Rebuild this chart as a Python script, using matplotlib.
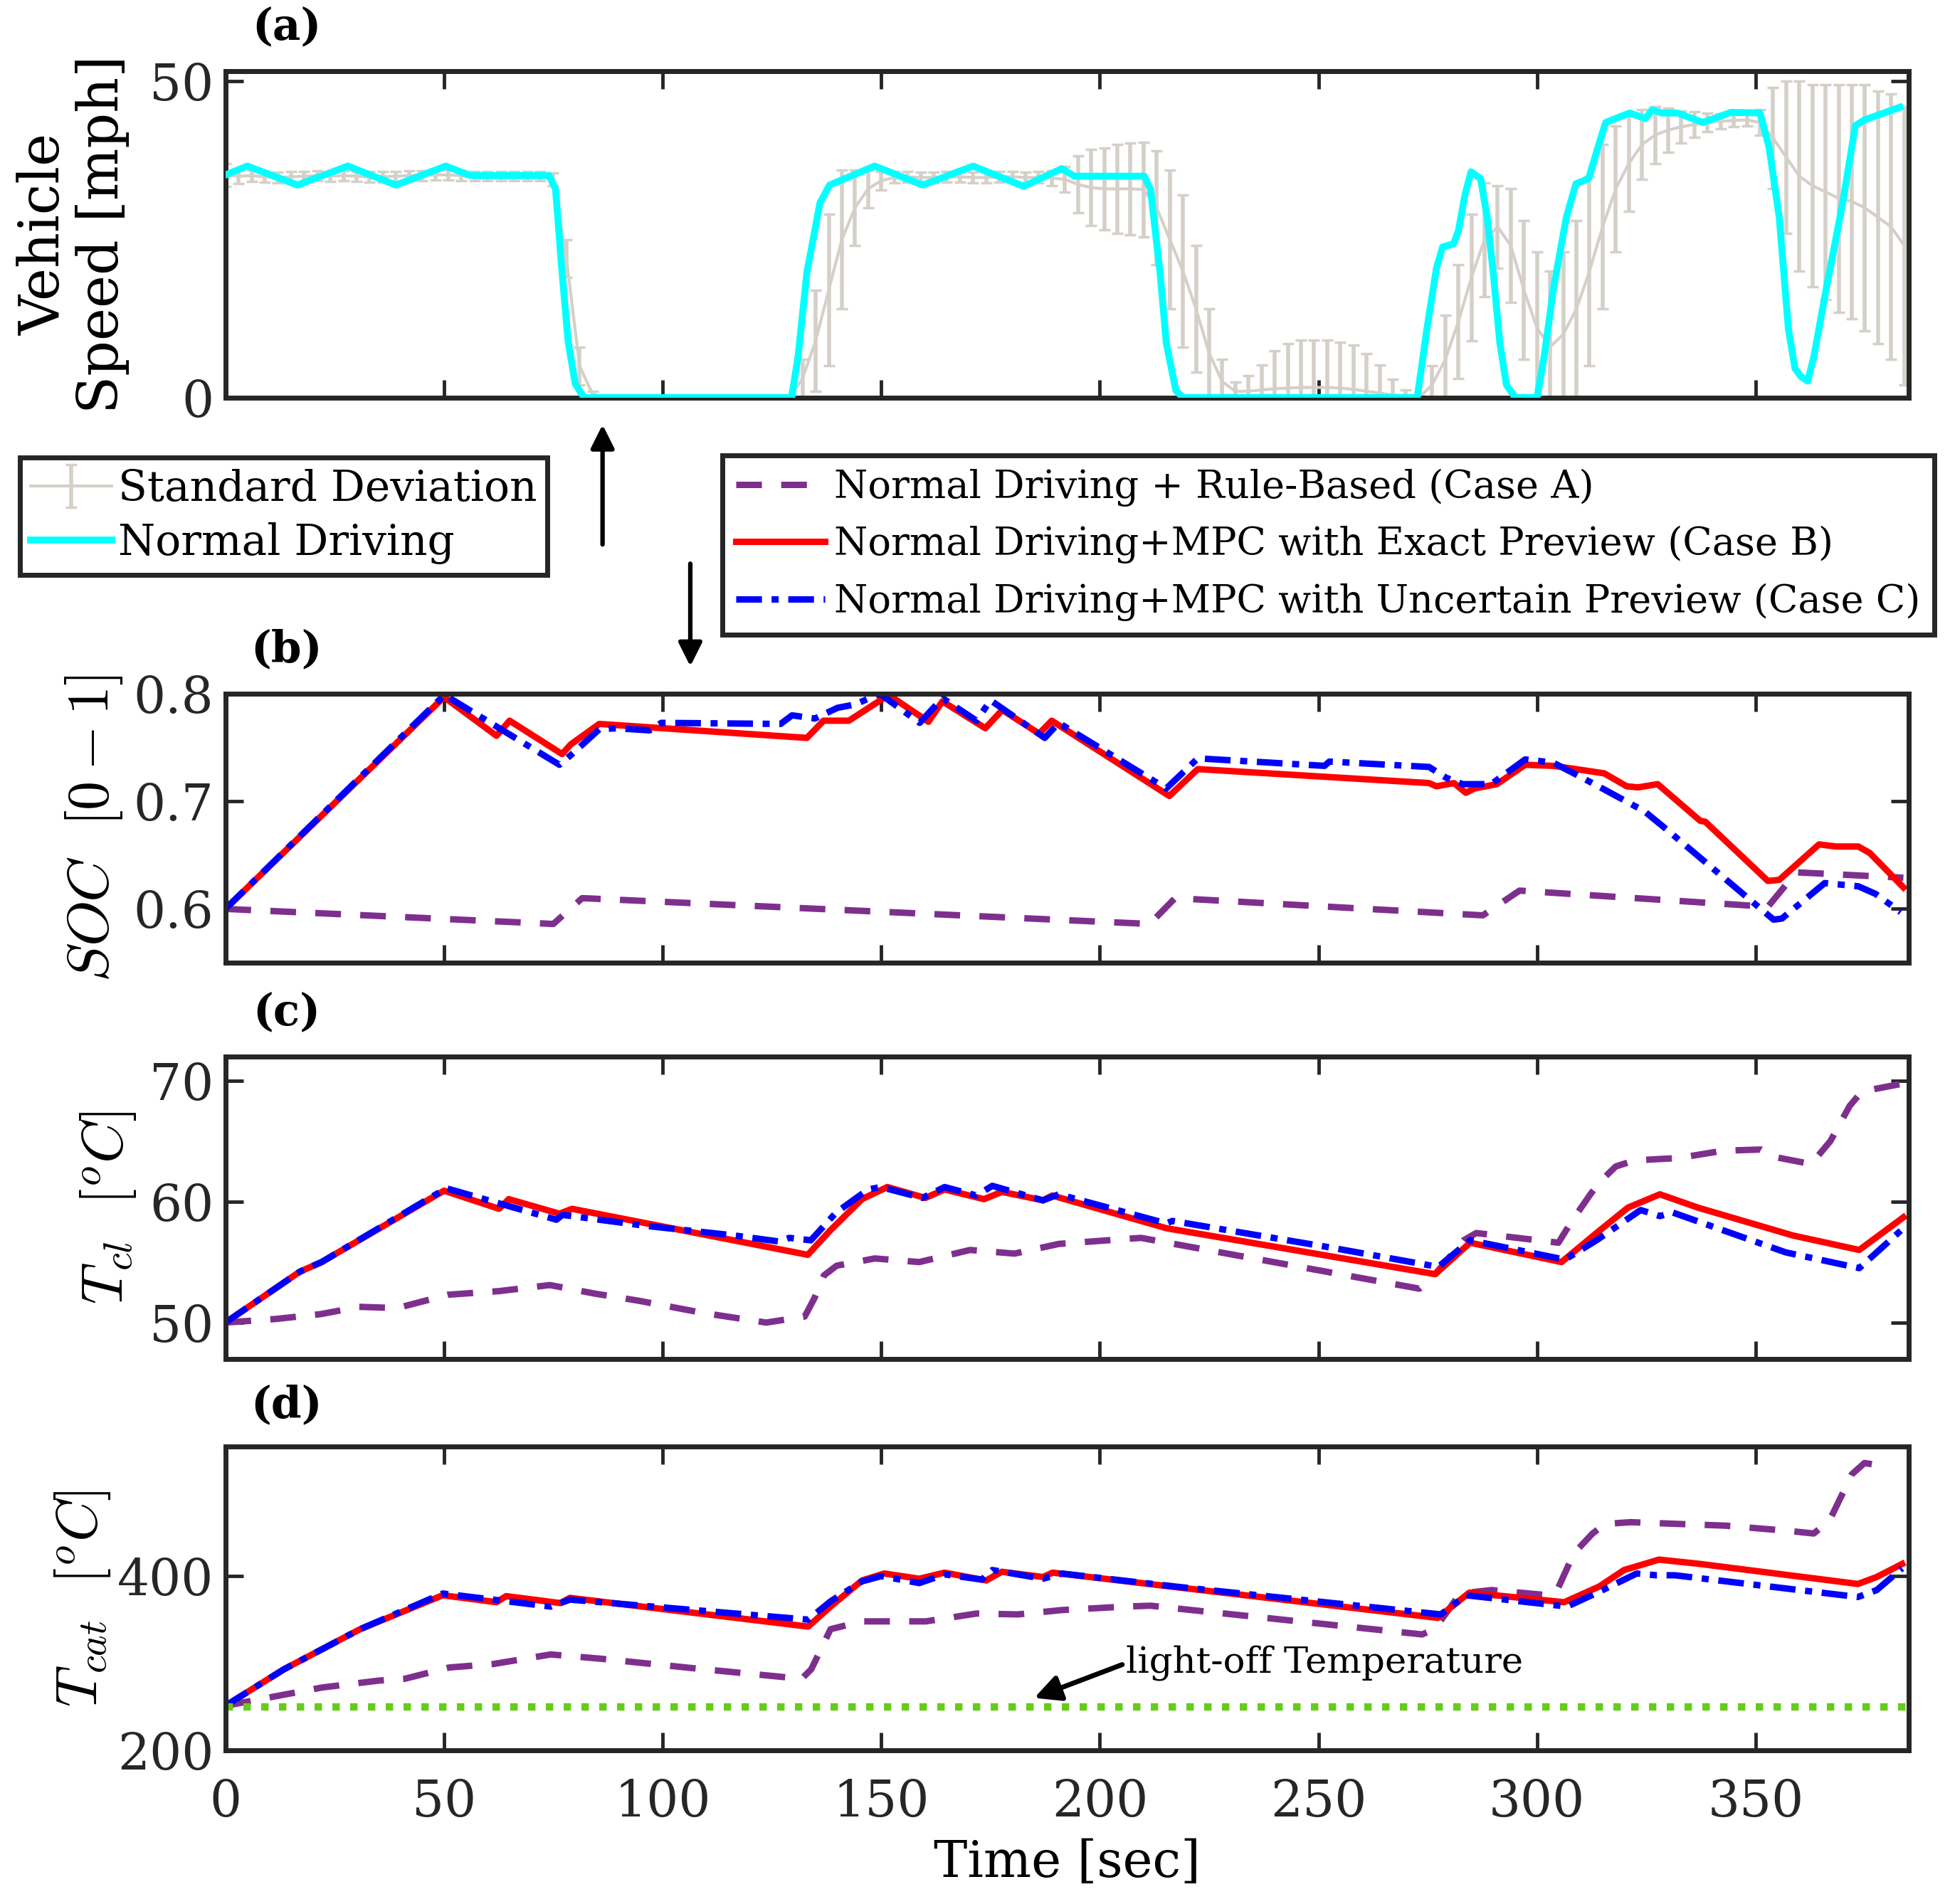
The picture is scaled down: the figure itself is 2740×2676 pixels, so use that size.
#Import packages
import matplotlib
matplotlib.use('Agg')
import matplotlib.pyplot as plt

#-----DATA-----

#(a) vehicle speed, normal driving [mph]
t_speed = [0, 5, 16.5, 28, 39, 50.4, 56, 74, 75.5, 77, 78.4, 80, 82, 129.5, 131, 133, 136, 138.2,
           148.5, 159.5, 171, 182.6, 191.3, 194.2, 210.2, 211.6, 213.8, 215.2, 217.4, 219, 272.6,
           274.8, 277, 278.4, 280.9, 282, 283.5, 284.9, 287.1, 288.6, 290, 291.5, 293, 295, 300,
           301.6, 303.8, 306.7, 308.9, 311.8, 313.9, 315.7, 321.2, 324.8, 326.3, 328.5, 332.1,
           337.9, 344.4, 351, 353.1, 355.4, 357.5, 359, 360.4, 361.9, 363.3, 366.2, 369.9, 372.8,
           374.9, 383]
v_speed = [35.2, 36.6, 33.6, 36.6, 33.6, 36.6, 35.1, 35.1, 33, 19.8, 8.8, 2.2, 0, 0, 6.6, 19.8, 30.8, 33.6,
           36.6, 33.6, 36.6, 33.4, 36.2, 35.0, 35.0, 32.9, 19.6, 8.6, 1.1, 0, 0,
           10.8, 20.5, 23.8, 24.3, 26.3, 32, 35.7, 34.6, 28.5, 19.6, 8.6, 2, 0, 0,
           6.4, 17.4, 28.5, 33.8, 34.6, 39.5, 43.5, 45, 44.1, 45.5, 45, 45,
           43.5, 45.1, 45, 39.5, 28.5, 10.8, 4.6, 3.3, 2.6, 6.4, 17.4, 30.7, 43,
           43.9, 45.9]

#(a) mean and standard deviation of the speed, sampled every 3 sec
t_sd = [0, 3, 6, 9, 12, 15, 18, 21, 24, 27, 30, 33, 36, 39, 42, 45, 48, 51, 54, 57, 60, 63, 66, 69, 72,
        75, 78, 81, 84, 87, 90, 93, 96, 99, 102, 105, 108, 111, 114, 117, 120, 123, 126, 129,
        132, 135, 138, 141, 144, 147, 150, 153, 156, 159, 162, 165, 168, 171, 174, 177, 180, 183, 186, 189,
        192, 195, 198, 201, 204, 207, 210, 213, 216, 219, 222, 225, 228, 231, 234, 237, 240, 243, 246, 249,
        252, 255, 258, 261, 264, 267, 270, 273, 276, 279, 282, 285, 288, 291, 294, 297, 300, 303, 306, 309,
        312, 315, 318, 321, 324, 327, 330, 333, 336, 339, 342, 345, 348, 351, 354, 357, 360, 363, 366, 369,
        372, 375, 378, 381, 384]
sd_mean = [35.2, 35.0, 35.1, 34.9, 34.8, 34.9, 35.0, 35.1, 35.0, 35.1, 35.0, 34.9, 34.9, 35.0, 35.1, 35.1,
           35.2, 35.2, 35.1, 35.0, 35.0, 35.0, 35.0, 35.0, 35.0,
           34.5, 22, 5, 0.5, 0, 0, 0, 0, 0, 0, 0, 0, 0, 0, 0, 0, 0, 0, 0,
           3, 9, 17, 25, 30, 33, 34.3, 34.8, 34.9, 34.8, 34.8, 34.9, 34.9, 34.8, 34.8, 34.9, 34.9, 34.8, 34.8, 34.7,
           34.5, 33.7, 33.2, 33, 33, 33, 32.9, 30, 25, 20, 14, 7, 2.5, 1, 1, 1.2, 1.4, 1.5, 1.6, 1.6,
           1.6, 1.5, 1.3, 1, 0.7, 0.4, 0.2, 0, 2, 6, 12, 19, 25, 27, 24, 17, 11, 8, 10, 14,
           20, 27, 33, 37, 40, 41.5, 42.3, 42.8, 43.2, 43.5, 43.7, 43.8, 43.9, 43.5, 41, 38, 35, 33.5, 32.5, 31.5,
           31, 30, 28.5, 27, 24]
sd_std = [1.8, 1.2, 0.9, 0.8, 0.8, 0.8, 0.8, 0.8, 0.8, 0.8, 0.8, 0.8, 0.8, 0.8, 0.8, 0.8,
          0.8, 0.8, 0.8, 0.7, 0.7, 0.7, 0.7, 0.7, 0.7,
          1.0, 3, 3, 0.5, 0, 0, 0, 0, 0, 0, 0, 0, 0, 0, 0, 0, 0, 0, 0,
          3, 8, 12, 11, 6, 3, 1.5, 0.9, 0.8, 0.8, 0.8, 0.8, 0.8, 0.8, 0.8, 0.8, 0.8, 0.8, 0.9, 1.2,
          2, 4.5, 6, 6.5, 7, 7.3, 7.5, 9, 11, 12, 10, 7, 3.5, 1.5, 2.5, 4, 6, 7, 7.5, 7.5,
          7.5, 7.3, 7, 6, 4.5, 2.5, 1, 0.3, 3, 7, 9, 10, 9, 6.5, 9, 11, 12, 12, 13, 14,
          15, 13, 10, 7.5, 5.5, 4.5, 3.5, 2.5, 2, 1.5, 1.2, 1, 1, 2, 8, 12, 15, 16, 17, 18,
          18.5, 19.5, 20, 21, 22]

#(b) state of charge
t_soc_a = [0, 75, 81.6, 211.4, 217.2, 287.6, 296, 352.8, 359.3, 383.8]
soc_a = [0.600, 0.586, 0.610, 0.586, 0.610, 0.594, 0.617, 0.602, 0.634, 0.629]
t_soc_b = [0, 50, 62, 65, 77, 79, 85.5, 133, 136.8, 142.6, 151.7, 160.8, 164, 173.8, 177.7, 186.1, 189,
           215.9, 222.4, 275.3, 277, 281, 283.7, 285.7, 290.8, 297.3, 303.7, 308.9, 315.4, 320.5, 323.1,
           327.6, 337.3, 338.5, 352.8, 355.4, 364.5, 368.4, 373.5, 376.1, 383.8]
soc_b = [0.600, 0.797, 0.761, 0.775, 0.744, 0.753, 0.772, 0.759, 0.775, 0.775, 0.799, 0.774, 0.793, 0.768,
         0.785, 0.763, 0.775, 0.705, 0.730, 0.717, 0.714, 0.717, 0.708, 0.712, 0.716, 0.734, 0.733, 0.730,
         0.726, 0.714, 0.713, 0.716, 0.682, 0.681, 0.626, 0.627, 0.660, 0.658, 0.658, 0.652, 0.620]
t_soc_c = [0, 50.1, 76.4, 79, 85.5, 89.4, 97, 99.7, 127, 129.6, 134.8, 140, 143.9, 149.7, 158.8, 164, 171.8,
           175, 187.4, 190.6, 215.2, 222.4, 251.4, 252.5, 275.3, 279.2, 283, 289.5, 297.3, 303.7, 308.9,
           315.4, 323.1, 324.5, 329.6, 354.1, 356, 365.8, 373.5, 377.4, 383.2]
soc_c = [0.600, 0.799, 0.734, 0.743, 0.767, 0.768, 0.766, 0.773, 0.772, 0.780, 0.777, 0.787, 0.790, 0.800,
         0.773, 0.796, 0.775, 0.794, 0.759, 0.773, 0.712, 0.740, 0.733, 0.737, 0.732, 0.722, 0.716, 0.716,
         0.739, 0.736, 0.725, 0.711, 0.694, 0.691, 0.674, 0.590, 0.591, 0.624, 0.621, 0.614, 0.597]

#(c) coolant temperature [C]
t_cl_a = [0, 11.6, 21.8, 30.6, 39.3, 50.9, 62.6, 74.2, 84.4, 94.6, 109.2, 123.7, 132.5, 134.7, 136.9, 139.8,
          148.5, 158.7, 170.3, 180.5, 190.6, 209.4, 273.1, 276, 283.2, 286.1, 304.9, 307.8, 312.2, 314.3,
          318, 322.3, 332.4, 342.5, 351.2, 354.1, 362.7, 367.1, 371.5, 374.3, 383]
cl_a = [50, 50.3, 50.7, 51.3, 51.2, 52.3, 52.6, 53.1, 52.4, 51.8, 50.8, 50.0, 50.5, 52, 53.9, 54.7,
        55.3, 55.0, 56.0, 55.7, 56.5, 57.0, 52.8, 53.7, 56.8, 57.4, 56.6, 58.3, 60.6, 61.6,
        62.9, 63.4, 63.6, 64.2, 64.3, 63.7, 63.1, 65, 67.9, 69.1, 69.7]
t_cl_b = [0, 17, 22, 50, 62.6, 64.8, 76.4, 79.3, 133.2, 138.3, 145.6, 151.4, 160.1, 164.5, 173.5, 177.6,
          187, 189.1, 215.2, 276.7, 284.7, 305.6, 313.6, 320.8, 328.1, 336.8, 358.5, 373.7, 383.8]
cl_b = [50, 54.2, 55, 60.9, 59.4, 60.2, 59.0, 59.4, 55.6, 57.6, 60.2, 61.2, 60.3, 61.0, 60.2, 60.8,
        60.1, 60.5, 57.8, 54.0, 56.6, 55.0, 57.4, 59.5, 60.6, 59.5, 57.2, 56.0, 58.7]
t_cl_c = [0, 17, 22, 50.5, 75.7, 77.1, 96, 116.4, 126.6, 129, 133.9, 139.7, 147, 149.9, 159.4, 164.5,
          171.8, 175.4, 187, 190.6, 215.2, 216.6, 252.8, 277.4, 284.7, 306.4, 313.6, 323.7, 328.1, 331,
          356.9, 373.7, 383.8]
cl_c = [50, 54.2, 55, 61.1, 58.5, 58.9, 58.0, 57.2, 56.7, 57.0, 56.8, 59.1, 61.0, 61.2, 60.3, 61.2,
        60.5, 61.3, 60.1, 60.6, 58.2, 58.4, 56.2, 54.6, 56.8, 55.2, 56.8, 59.3, 58.8, 59.1,
        55.8, 54.5, 57.8]

#(d) catalyst temperature [C]
t_cat_a = [0, 10.5, 22.1, 35.2, 41, 51.2, 61.3, 74.4, 86, 109.3, 131.8, 134, 138.4, 145.6, 160.2, 171.8,
           181.2, 191.3, 205.8, 211.6, 273.7, 276.6, 282.4, 289.6, 302.6, 304.8, 308.4, 312.7, 315.6,
           321.4, 343.1, 357.5, 363.3, 366.9, 369.8, 372, 374.9, 379.9]
cat_a = [251, 261, 272, 280, 282, 295, 299, 310, 305, 293, 282, 293, 339, 348, 348, 357,
         356, 361, 365, 366, 333, 339, 380, 384, 378, 386, 426, 449, 460,
         462, 458, 452, 449, 464, 494, 517, 530, 526]
t_cat_b = [0, 13.4, 22.1, 30.8, 49.7, 62, 64.2, 76.6, 78.8, 133.3, 138.4, 145.6, 150.7, 158.7, 164.5, 174,
           177.6, 187, 189.2, 277.3, 284.5, 306.2, 314.2, 319.9, 327.9, 337.3, 373.4, 377.7, 383.5]
cat_b = [251, 293, 316, 339, 378, 370, 377, 369, 375, 342, 365, 395, 403, 397, 404, 395,
         405, 399, 404, 352, 381, 370, 388, 407, 419, 414, 391, 399, 414]
t_cat_c = [0, 13.4, 22.1, 30.8, 49.7, 74.4, 78.8, 133.3, 138.4, 145.6, 150, 158.7, 164.5, 173, 175.4, 187,
           191.3, 217.3, 278, 283.8, 306.9, 314.2, 322.8, 327.2, 331.5, 373.4, 377.7, 383.5]
cat_c = [251, 293, 316, 339, 380, 365, 373, 350, 371, 394, 400, 392, 402, 396, 407, 397,
         403, 388, 356, 378, 365, 382, 403, 401, 401, 376, 384, 409]
light_off = 250

x_ticks = [0, 50, 100, 150, 200, 250, 300, 350]

#-----STYLE-----
plt.rcParams['font.family'] = 'DejaVu Serif'
plt.rcParams['mathtext.fontset'] = 'cm'

spine_col = '#262626'
gray = '#D4D0C8'
purple = '#7E2F8E'
lbl_size = 54
tick_size = 51
lw_case = 6.5
dash_a = (4, 3)
dash_c = (4, 1.5, 1.1, 1.5)

fig = plt.figure(figsize=(27.4, 26.76), dpi=100)

ax_a = fig.add_axes([0.1156, 0.7912, 0.8632, 0.1714])
ax_b = fig.add_axes([0.1156, 0.4944, 0.8632, 0.1412])
ax_c = fig.add_axes([0.1156, 0.2863, 0.8632, 0.1589])
ax_d = fig.add_axes([0.1156, 0.0808, 0.8632, 0.1595])

#-----(a) SPEED-----
sd = ax_a.errorbar(t_sd, sd_mean, yerr=sd_std, color=gray, ecolor=gray, lw=3, elinewidth=4,
                   capsize=6, capthick=2.5, label='Standard Deviation', zorder=2)
cyan_line, = ax_a.plot(t_speed, v_speed, color='#00FFFF', lw=7, label='Normal Driving', zorder=3)
ax_a.set_ylim(0, 51.6)
ax_a.set_yticks([0, 50])
ax_a.set_ylabel('Vehicle\nSpeed [mph]', fontsize=56, linespacing=1.1)
ax_a.yaxis.set_label_coords(-0.057, 0.5)

#-----(b) SOC-----
line_a, = ax_b.plot(t_soc_a, soc_a, color=purple, lw=lw_case, dashes=dash_a,
                    label='Normal Driving + Rule-Based (Case A)')
line_b, = ax_b.plot(t_soc_b, soc_b, color='#FF0000', lw=lw_case,
                    label='Normal Driving+MPC with Exact Preview (Case B)')
line_c, = ax_b.plot(t_soc_c, soc_c, color='#0000FF', lw=lw_case, dashes=dash_c,
                    label='Normal Driving+MPC with Uncertain Preview (Case C)')
ax_b.set_ylim(0.55, 0.8)
ax_b.set_yticks([0.6, 0.7, 0.8])
ax_b.set_yticklabels(['0.6', '0.7', '0.8'])
ax_b.set_ylabel(r'$SOC\ \ [0-1]$', fontsize=59)
ax_b.yaxis.set_label_coords(-0.06, 0.5)

#-----(c) COOLANT TEMPERATURE-----
ax_c.plot(t_cl_a, cl_a, color=purple, lw=lw_case, dashes=dash_a)
ax_c.plot(t_cl_b, cl_b, color='#FF0000', lw=lw_case)
ax_c.plot(t_cl_c, cl_c, color='#0000FF', lw=lw_case, dashes=dash_c)
ax_c.set_ylim(47, 72)
ax_c.set_yticks([50, 60, 70])
ax_c.set_ylabel(r'$T_{cl}\ \ [{}^{o}C]$', fontsize=58)
ax_c.yaxis.set_label_coords(-0.052, 0.5)

#-----(d) CATALYST TEMPERATURE-----
ax_d.plot(t_cat_a, cat_a, color=purple, lw=lw_case, dashes=dash_a)
ax_d.plot(t_cat_b, cat_b, color='#FF0000', lw=lw_case)
ax_d.plot(t_cat_c, cat_c, color='#0000FF', lw=lw_case, dashes=dash_c)
ax_d.axhline(light_off, color='#66CC1A', lw=7.5, linestyle=(0, (1, 1.4)))
ax_d.annotate('light-off Temperature', xy=(185, 260), xytext=(206, 300), fontsize=37,
              ha='left', va='center',
              arrowprops=dict(arrowstyle='-|>', color='k', lw=5, mutation_scale=55,
                              relpos=(0, 0.5), shrinkA=2, shrinkB=0))
ax_d.set_ylim(200, 549)
ax_d.set_yticks([200, 400])
ax_d.set_ylabel(r'$T_{cat}\ \ [{}^{o}C]$', fontsize=58)
ax_d.yaxis.set_label_coords(-0.067, 0.5)
ax_d.set_xlabel('Time [sec]', fontsize=51)
ax_d.xaxis.set_label_coords(0.5, -0.29)

#common axes styling
for ax in [ax_a, ax_b, ax_c, ax_d]:
    ax.set_xlim(0, 385)
    ax.set_xticks(x_ticks)
    ax.tick_params(direction='in', top=True, right=True, length=18, width=3.5,
                   colors=spine_col, labelsize=tick_size, pad=12)
    ax.tick_params(axis='x', pad=28)
    for s in ax.spines.values():
        s.set_linewidth(5)
        s.set_color(spine_col)
    if ax is not ax_d:
        ax.set_xticklabels([])

#panel letters
for lab, yy in [('(a)', 0.9856), ('(b)', 0.6586), ('(c)', 0.4682), ('(d)', 0.262)]:
    fig.text(0.147, yy, lab, fontsize=44, fontweight='bold', ha='center', va='center')

#legends
leg1 = fig.legend(handles=[sd, cyan_line], loc='upper left', bbox_to_anchor=(0.0103, 0.7597),
                  fontsize=43, frameon=True, fancybox=False, framealpha=1,
                  handlelength=1.9, handletextpad=0.15, borderpad=0.25, labelspacing=0.3,
                  borderaxespad=0)
leg1.get_frame().set_edgecolor(spine_col)
leg1.get_frame().set_linewidth(5)

leg2 = fig.legend(handles=[line_a, line_b, line_c], loc='upper left', bbox_to_anchor=(0.3705, 0.761),
                  fontsize=39, frameon=True, fancybox=False, framealpha=1,
                  handlelength=2.3, handletextpad=0.25, borderpad=0.35, labelspacing=0.5,
                  borderaxespad=0)
leg2.get_frame().set_edgecolor(spine_col)
leg2.get_frame().set_linewidth(5)

#arrows between the panels
fig.patches.append(matplotlib.patches.FancyArrowPatch((0.309, 0.713), (0.309, 0.778),
                   transform=fig.transFigure, arrowstyle='-|>', mutation_scale=50, lw=4.5, color='k'))
fig.patches.append(matplotlib.patches.FancyArrowPatch((0.354, 0.705), (0.354, 0.649),
                   transform=fig.transFigure, arrowstyle='-|>', mutation_scale=50, lw=4.5, color='k'))

fig.savefig('out.png', dpi=100)
